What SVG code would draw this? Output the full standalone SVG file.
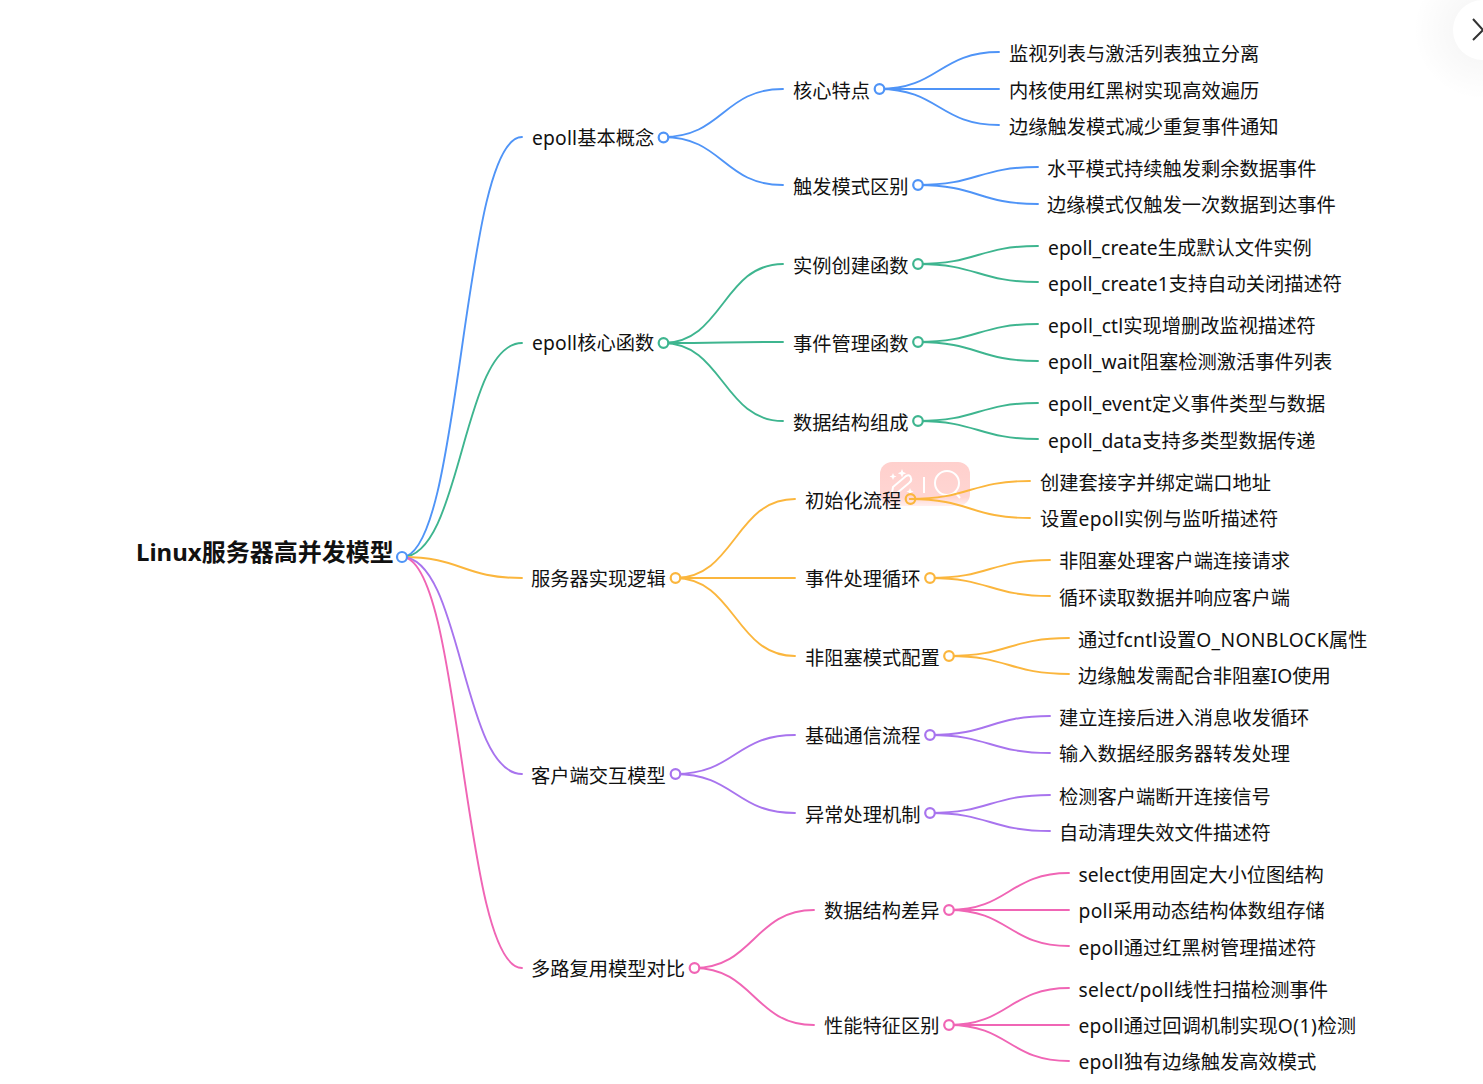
<svg xmlns="http://www.w3.org/2000/svg" width="1483" height="1084" viewBox="0 0 1483 1084">
<defs>
<radialGradient id="halo"><stop offset="0" stop-color="#000" stop-opacity="0.05"/><stop offset="1" stop-color="#000" stop-opacity="0"/></radialGradient>
<linearGradient id="fade" x1="0" y1="0" x2="0" y2="1"><stop offset="0" stop-color="#ffb3ae" stop-opacity="0.62"/><stop offset="0.8" stop-color="#ffb3ae" stop-opacity="0.55"/><stop offset="1" stop-color="#ffb3ae" stop-opacity="0.2"/></linearGradient>
</defs>
<style>
text{font-family:"Noto Sans","Noto Sans CJK SC",sans-serif;font-size:19.25px;fill:#111}
.root{font-size:24px;font-weight:700;fill:#111}
.l{fill:none;stroke-width:1.9;stroke-linecap:round}
.c{fill:#fff;stroke-width:2.2}
.b{stroke:#4f94f7}.g{stroke:#3eb58f}.o{stroke:#fbb63d}.p{stroke:#a874ee}.k{stroke:#f065b5}
.i{fill:none;stroke:#fff;stroke-width:2}
.s{fill:#fff}
</style>
<rect width="1483" height="1084" fill="#fff"/>
<g id="close-button">
<circle cx="1483" cy="30" r="70" fill="url(#halo)"/>
<circle cx="1483" cy="30" r="30" fill="#fff"/>
<path d="M1473 19L1483 30L1473 40" fill="none" stroke="#333" stroke-width="2"/>
</g>
<g id="overlay">
<rect x="880" y="462" width="90" height="44" rx="12" fill="url(#fade)"/>
<path class="i" d="M892 493L893 487L906 476Q910 474 911 478Q912 481 909 483L897 493Z M924 477V493"/>
<path class="s" d="M902 469l1.200 3 3 1.200-3 1.200-1.200 3-1.200-3-3-1.200 3-1.200Z M893 473l1 2.500 2.500 1-2.500 1-1 2.500-1-2.500-2.500-1 2.500-1Z M910 488l1 2.500 2.500 1-2.500 1-1 2.500-1-2.500-2.500-1 2.500-1Z"/>
<circle class="i" cx="947" cy="483" r="12"/>
<path class="i" d="M955 492L960 498"/>
</g>
<g id="connectors">
<path class="l b" d="M402 557C462 557 462 137 522 137"/>
<path class="l g" d="M402 557C462 557 462 343 522 343"/>
<path class="l o" d="M402 557C462 557 462 578 522 578"/>
<path class="l p" d="M402 557C462 557 462 774 522 774"/>
<path class="l k" d="M402 557C462 557 462 968 522 968"/>
<path class="l b" d="M663 137C723 137 723 89 783 89"/>
<path class="l b" d="M663 137C723 137 723 185 783 185"/>
<path class="l g" d="M663 343C723 343 723 264 783 264"/>
<path class="l g" d="M663 343C723 343 723 342 783 342"/>
<path class="l g" d="M663 343C723 343 723 421 783 421"/>
<path class="l o" d="M675 578C735 578 735 499 795 499"/>
<path class="l o" d="M675 578C735 578 735 578 795 578"/>
<path class="l o" d="M675 578C735 578 735 656 795 656"/>
<path class="l p" d="M675 774C735 774 735 735 795 735"/>
<path class="l p" d="M675 774C735 774 735 813 795 813"/>
<path class="l k" d="M694 968C754 968 754 910 814 910"/>
<path class="l k" d="M694 968C754 968 754 1025 814 1025"/>
<path class="l b" d="M879 89C939 89 939 52 999 52"/>
<path class="l b" d="M879 89H999"/>
<path class="l b" d="M879 89C939 89 939 125 999 125"/>
<path class="l b" d="M918 185C978 185 978 167 1038 167"/>
<path class="l b" d="M918 185C978 185 978 204 1038 204"/>
<path class="l g" d="M918 264C978 264 978 246 1038 246"/>
<path class="l g" d="M918 264C978 264 978 282 1038 282"/>
<path class="l g" d="M918 342C978 342 978 324 1038 324"/>
<path class="l g" d="M918 342C978 342 978 361 1038 361"/>
<path class="l g" d="M918 421C978 421 978 403 1038 403"/>
<path class="l g" d="M918 421C978 421 978 439 1038 439"/>
<path class="l o" d="M910 499C970 499 970 481 1030 481"/>
<path class="l o" d="M910 499C970 499 970 518 1030 518"/>
<path class="l o" d="M930 578C990 578 990 560 1050 560"/>
<path class="l o" d="M930 578C990 578 990 596 1050 596"/>
<path class="l o" d="M949 656C1009 656 1009 638 1069 638"/>
<path class="l o" d="M949 656C1009 656 1009 674 1069 674"/>
<path class="l p" d="M930 735C990 735 990 716 1050 716"/>
<path class="l p" d="M930 735C990 735 990 753 1050 753"/>
<path class="l p" d="M930 813C990 813 990 795 1050 795"/>
<path class="l p" d="M930 813C990 813 990 831 1050 831"/>
<path class="l k" d="M949 910C1009 910 1009 873 1069 873"/>
<path class="l k" d="M949 910H1069"/>
<path class="l k" d="M949 910C1009 910 1009 946 1069 946"/>
<path class="l k" d="M949 1025C1009 1025 1009 988 1069 988"/>
<path class="l k" d="M949 1025H1069"/>
<path class="l k" d="M949 1025C1009 1025 1009 1061 1069 1061"/>
</g>
<g id="root"><text class="root" x="136" y="561">Linux服务器高并发模型</text><circle class="c b" cx="402" cy="557" r="5"/></g>
<g id="n1"><text x="532" y="145"><tspan letter-spacing=".2">epoll</tspan>基本概念</text><circle class="c b" cx="663.500" cy="137.500" r="4.800"/></g>
<g id="n2"><text x="532" y="350"><tspan letter-spacing=".2">epoll</tspan>核心函数</text><circle class="c g" cx="663.500" cy="343" r="4.800"/></g>
<g id="n3"><text x="531" y="585.500">服务器实现逻辑</text><circle class="c o" cx="675.500" cy="578" r="4.800"/></g>
<g id="n4"><text x="531" y="782.500">客户端交互模型</text><circle class="c p" cx="675.500" cy="774" r="4.800"/></g>
<g id="n5"><text x="531" y="975.500">多路复用模型对比</text><circle class="c k" cx="694.500" cy="968" r="4.800"/></g>
<g id="n1-1"><text x="793" y="97.500">核心特点</text><circle class="c b" cx="879.500" cy="89" r="4.800"/></g>
<g id="n1-2"><text x="793" y="193.500">触发模式区别</text><circle class="c b" cx="918" cy="185" r="4.800"/></g>
<g id="n2-1"><text x="793" y="272.500">实例创建函数</text><circle class="c g" cx="918" cy="264" r="4.800"/></g>
<g id="n2-2"><text x="793" y="350.500">事件管理函数</text><circle class="c g" cx="918" cy="342" r="4.800"/></g>
<g id="n2-3"><text x="793" y="429.500">数据结构组成</text><circle class="c g" cx="918" cy="421" r="4.800"/></g>
<g id="n3-1"><text x="805" y="507.500">初始化流程</text><circle class="c o" cx="910.500" cy="499" r="4.800" style="fill:none"/></g>
<g id="n3-2"><text x="805" y="585.500">事件处理循环</text><circle class="c o" cx="930" cy="578" r="4.800"/></g>
<g id="n3-3"><text x="805" y="664.500">非阻塞模式配置</text><circle class="c o" cx="949" cy="656" r="4.800"/></g>
<g id="n4-1"><text x="805" y="742.500">基础通信流程</text><circle class="c p" cx="930" cy="735" r="4.800"/></g>
<g id="n4-2"><text x="805" y="821.500">异常处理机制</text><circle class="c p" cx="930" cy="813" r="4.800"/></g>
<g id="n5-1"><text x="824" y="917.500">数据结构差异</text><circle class="c k" cx="949" cy="910" r="4.800"/></g>
<g id="n5-2"><text x="824" y="1032.500">性能特征区别</text><circle class="c k" cx="949" cy="1025" r="4.800"/></g>
<g id="leaves">
<text x="1009" y="60.500">监视列表与激活列表独立分离</text>
<text x="1009" y="97.500">内核使用红黑树实现高效遍历</text>
<text x="1009" y="133.500">边缘触发模式减少重复事件通知</text>
<text x="1047" y="175.500">水平模式持续触发剩余数据事件</text>
<text x="1047" y="211.500">边缘模式仅触发一次数据到达事件</text>
<text x="1048" y="254.500"><tspan letter-spacing=".05">epoll_create</tspan>生成默认文件实例</text>
<text x="1048" y="290.500"><tspan letter-spacing=".05">epoll_create1</tspan>支持自动关闭描述符</text>
<text x="1048" y="332.500"><tspan letter-spacing=".15">epoll_ctl</tspan>实现增删改监视描述符</text>
<text x="1048" y="368.500"><tspan letter-spacing=".1">epoll_wait</tspan>阻塞检测激活事件列表</text>
<text x="1048" y="410.500"><tspan letter-spacing=".1">epoll_event</tspan>定义事件类型与数据</text>
<text x="1048" y="447.500"><tspan letter-spacing=".1">epoll_data</tspan>支持多类型数据传递</text>
<text x="1040" y="489.500">创建套接字并绑定端口地址</text>
<text x="1040" y="525.500">设置<tspan letter-spacing=".3">epoll</tspan>实例与监听描述符</text>
<text x="1059" y="567.500">非阻塞处理客户端连接请求</text>
<text x="1059" y="604.500">循环读取数据并响应客户端</text>
<text x="1078" y="646.500">通过<tspan letter-spacing=".3">fcntl</tspan>设置<tspan letter-spacing=".35">O_NONBLOCK</tspan>属性</text>
<text x="1078" y="682.500">边缘触发需配合非阻塞<tspan letter-spacing=".1">IO</tspan>使用</text>
<text x="1059" y="724.500">建立连接后进入消息收发循环</text>
<text x="1059" y="760.500">输入数据经服务器转发处理</text>
<text x="1059" y="803.500">检测客户端断开连接信号</text>
<text x="1059" y="839.500">自动清理失效文件描述符</text>
<text x="1078.500" y="881.500"><tspan letter-spacing=".1">select</tspan>使用固定大小位图结构</text>
<text x="1078.500" y="917.500"><tspan letter-spacing=".3">poll</tspan>采用动态结构体数组存储</text>
<text x="1078.500" y="954.500"><tspan letter-spacing=".2">epoll</tspan>通过红黑树管理描述符</text>
<text x="1078.500" y="996.500"><tspan letter-spacing=".25">select/poll</tspan>线性扫描检测事件</text>
<text x="1078.500" y="1032.500"><tspan letter-spacing=".2">epoll</tspan>通过回调机制实现<tspan letter-spacing=".5">O(1)</tspan>检测</text>
<text x="1078.500" y="1068.500"><tspan letter-spacing=".2">epoll</tspan>独有边缘触发高效模式</text>
</g>
</svg>
